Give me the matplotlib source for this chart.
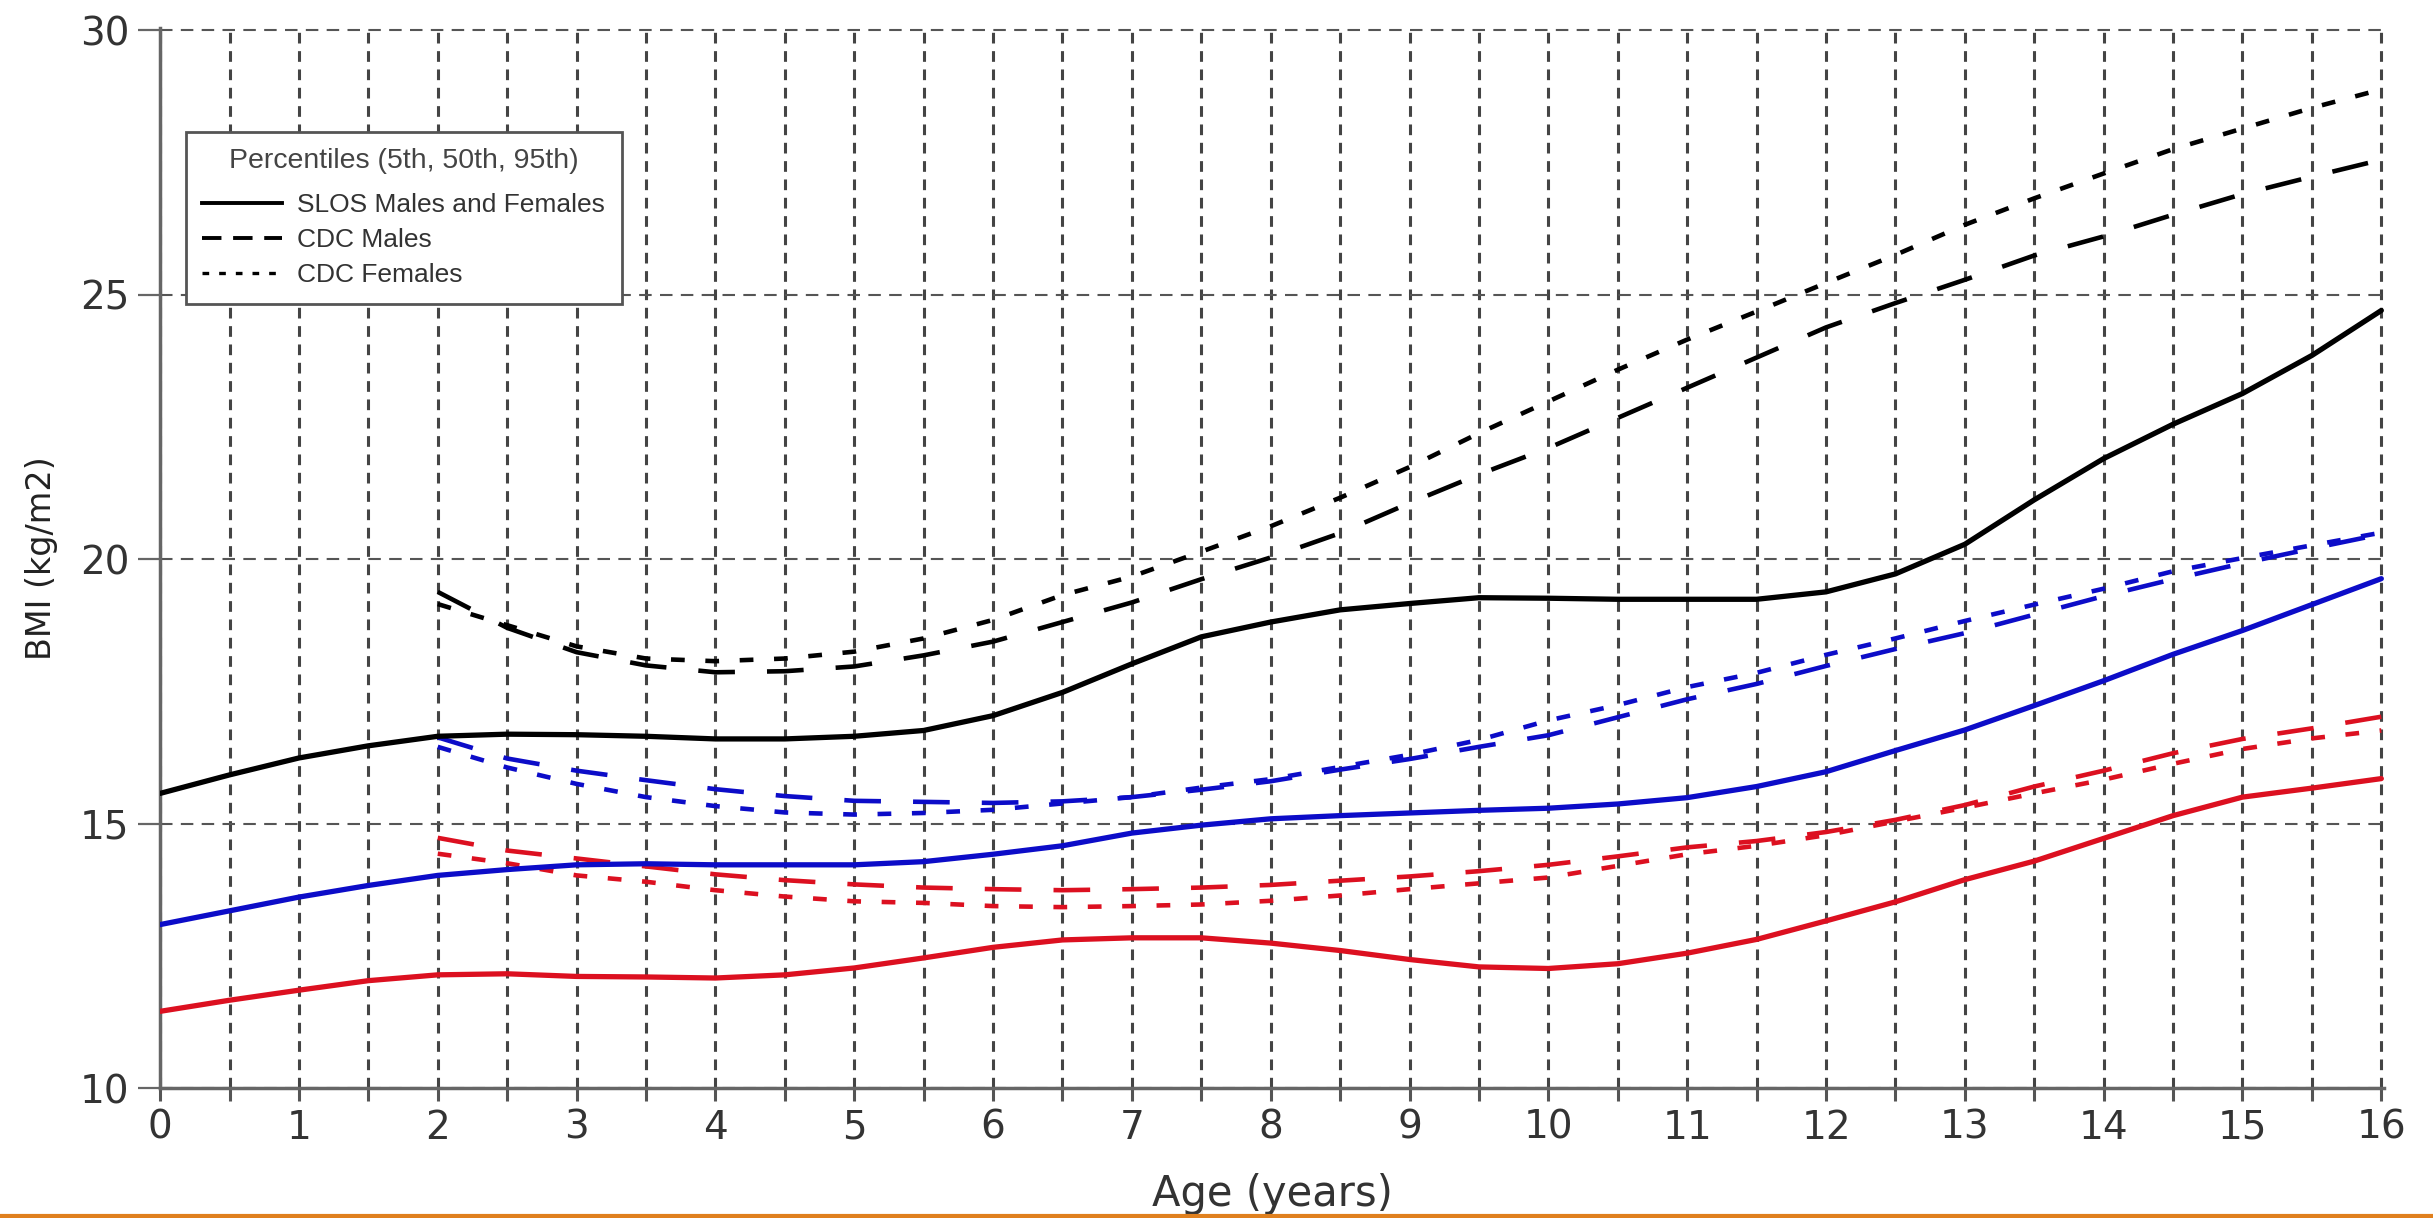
import numpy as np
import matplotlib
matplotlib.use("Agg")
import matplotlib.pyplot as plt
from matplotlib.lines import Line2D

# ---- data ----
age_slos = np.arange(0, 16.5, 0.5)
age_cdc = np.arange(2, 16.5, 0.5)

slos_p95 = [15.57, 15.92, 16.24, 16.47, 16.65, 16.69, 16.68, 16.65, 16.60, 16.60, 16.65,
            16.76, 17.04, 17.48, 18.02, 18.53, 18.81, 19.04, 19.16, 19.27, 19.26, 19.24,
            19.24, 19.24, 19.38, 19.72, 20.28, 21.12, 21.90, 22.55, 23.13, 23.85, 24.70]
slos_p50 = [13.09, 13.35, 13.61, 13.83, 14.02, 14.13, 14.22, 14.24, 14.22, 14.22, 14.22,
            14.28, 14.42, 14.58, 14.82, 14.97, 15.09, 15.15, 15.20, 15.25, 15.29, 15.37,
            15.49, 15.70, 15.98, 16.38, 16.77, 17.23, 17.70, 18.20, 18.65, 19.14, 19.63]
slos_p5 = [11.45, 11.66, 11.85, 12.03, 12.14, 12.16, 12.11, 12.10, 12.08, 12.14, 12.27,
           12.46, 12.66, 12.80, 12.84, 12.84, 12.74, 12.60, 12.43, 12.29, 12.26, 12.35,
           12.55, 12.81, 13.16, 13.52, 13.94, 14.29, 14.72, 15.15, 15.50, 15.67, 15.85]

cdc_m_p95 = [19.38, 18.70, 18.24, 17.99, 17.86, 17.88, 17.97, 18.18, 18.44, 18.81, 19.18,
             19.62, 20.03, 20.49, 21.06, 21.60, 22.10, 22.67, 23.24, 23.81, 24.38, 24.84,
             25.28, 25.74, 26.10, 26.51, 26.90, 27.23, 27.55]
cdc_f_p95 = [19.15, 18.75, 18.35, 18.12, 18.07, 18.12, 18.25, 18.50, 18.85, 19.32, 19.67,
             20.14, 20.62, 21.16, 21.74, 22.38, 22.98, 23.58, 24.15, 24.68, 25.22, 25.75,
             26.32, 26.82, 27.29, 27.75, 28.14, 28.53, 28.88]
cdc_m_p50 = [16.63, 16.23, 16.00, 15.82, 15.65, 15.52, 15.43, 15.41, 15.39, 15.42, 15.50,
             15.64, 15.80, 16.02, 16.22, 16.45, 16.67, 17.01, 17.35, 17.64, 17.98, 18.30,
             18.60, 18.95, 19.30, 19.62, 19.92, 20.20, 20.47]
cdc_f_p50 = [16.45, 16.06, 15.75, 15.50, 15.33, 15.21, 15.17, 15.20, 15.26, 15.38, 15.50,
             15.68, 15.84, 16.07, 16.30, 16.58, 16.95, 17.24, 17.58, 17.85, 18.19, 18.50,
             18.83, 19.14, 19.44, 19.77, 20.02, 20.26, 20.50]
cdc_m_p5 = [14.73, 14.49, 14.34, 14.19, 14.04, 13.93, 13.85, 13.79, 13.76, 13.74, 13.76,
            13.79, 13.84, 13.92, 14.00, 14.10, 14.22, 14.38, 14.55, 14.67, 14.84, 15.07,
            15.35, 15.70, 16.00, 16.33, 16.60, 16.80, 17.02]
cdc_f_p5 = [14.43, 14.25, 14.02, 13.90, 13.74, 13.62, 13.53, 13.50, 13.44, 13.42, 13.44,
            13.47, 13.54, 13.64, 13.76, 13.87, 13.98, 14.20, 14.42, 14.58, 14.78, 15.04,
            15.30, 15.57, 15.83, 16.13, 16.41, 16.61, 16.76]

x_labels = [str(i) for i in range(17)]
y_ticks = [10, 15, 20, 25, 30]
legend_labels = ["SLOS Males and Females", "CDC Males", "CDC Females"]

BLACK = "#000000"
BLUE = "#0c0cc8"
RED = "#dc1020"
MALE_DASH = (8, 7)
FEMALE_DASH = (3, 4.5)

fig = plt.figure(figsize=(24.33, 12.18), dpi=100)
ax = fig.add_axes([0.0658, 0.1067, 0.9141, 0.8703])

# SLOS curves (solid)
for y, c in [(slos_p95, BLACK), (slos_p50, BLUE), (slos_p5, RED)]:
    ax.plot(age_slos, y, color=c, lw=3.8, solid_capstyle="round",
            solid_joinstyle="round", zorder=4)

# CDC curves
for y, c in [(cdc_m_p95, BLACK), (cdc_m_p50, BLUE), (cdc_m_p5, RED)]:
    ax.plot(age_cdc, y, color=c, lw=3.3, dashes=MALE_DASH, zorder=3)
for y, c in [(cdc_f_p95, BLACK), (cdc_f_p50, BLUE), (cdc_f_p5, RED)]:
    ax.plot(age_cdc, y, color=c, lw=3.3, dashes=FEMALE_DASH, zorder=3)

ax.set_xlim(0, 16.02)
ax.set_ylim(10, 30.04)

ax.set_xticks(range(17))
ax.set_xticklabels(x_labels)
ax.set_xticks(np.arange(0.5, 16, 1.0), minor=True)
ax.set_yticks(y_ticks)

for s in ["top", "right"]:
    ax.spines[s].set_visible(False)
for s in ["left", "bottom"]:
    ax.spines[s].set_color("#666666")
    ax.spines[s].set_linewidth(2.5)

ax.tick_params(axis="x", which="both", direction="out", length=9, width=2.2,
               color="#555555", labelsize=28, labelcolor="#333333", pad=6)
ax.tick_params(axis="y", which="major", direction="out", length=16, width=1.6,
               color="#666666", labelsize=28, labelcolor="#333333", pad=6)

ax.grid(axis="x", which="both", color="#444444", lw=2.2, linestyle=(0, (3.5, 2.5)), zorder=1)
ax.grid(axis="y", which="major", color="#555555", lw=1.5, linestyle=(0, (6, 4)), zorder=1)
ax.set_axisbelow(True)

ax.set_xlabel("Age (years)", fontsize=30, color="#333333", labelpad=19)
ax.set_ylabel("BMI (kg/m2)", fontsize=24, color="#222222")
ax.yaxis.set_label_coords(-0.046, 0.5)

handles = [Line2D([], [], color="black", lw=2.8),
           Line2D([], [], color="black", lw=2.8, dashes=(5, 3)),
           Line2D([], [], color="black", lw=2.4, dashes=(2, 3))]
leg = ax.legend(handles, legend_labels, title="Percentiles (5th, 50th, 95th)",
                loc="upper left", bbox_to_anchor=(0.0117, 0.902), borderaxespad=0,
                frameon=True, fancybox=False, edgecolor="#555555", framealpha=1,
                handlelength=3.0, handletextpad=0.6, labelspacing=0.42,
                borderpad=0.62, prop={"family": "Liberation Sans", "size": 19})
leg.get_frame().set_linewidth(2)
leg.get_title().set_fontfamily("Liberation Sans")
leg.get_title().set_fontsize(20.5)
leg.get_title().set_color("#444444")
leg._legend_box.sep = 13.5   # extra room under the legend title
for t in leg.get_texts():
    t.set_color("#333333")
leg.set_zorder(10)

# orange rule along the bottom edge of the picture
fig.add_artist(Line2D([0, 1], [0.0018, 0.0018], transform=fig.transFigure,
                      color="#e0801e", lw=3))

fig.savefig("out.png", dpi=100, facecolor="white")
